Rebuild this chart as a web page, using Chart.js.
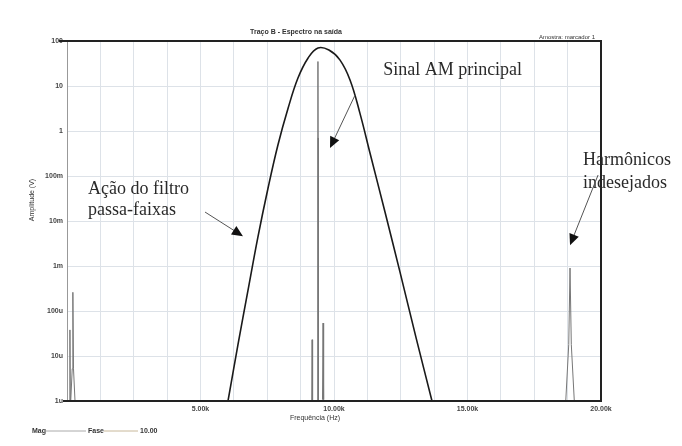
<!DOCTYPE html>
<html>
<head>
<meta charset="utf-8">
<script src="https://cdn.jsdelivr.net/npm/chart.js@4.4.1/dist/chart.umd.min.js"></script>
<style>
html,body{margin:0;padding:0;background:#fff;}
#wrap{width:682px;height:446px;position:relative;}
</style>
</head>
<body>
<div id="wrap"><canvas id="c" width="682" height="446"></canvas></div>
<script>
// ---- data (frequency in kHz, amplitude in V) ----
const filterFreq = [6.03, 6.40, 6.78, 7.15, 7.53, 7.90, 8.28, 8.65, 9.03, 9.40, 9.81, 10.22, 10.60, 10.97, 11.35, 11.91, 12.47, 13.07, 13.67];
const filterAmp  = [1e-6, 1.75e-5, 2.9e-4, 4.4e-3, 0.054, 0.49, 3.2, 15, 42, 70, 63, 38, 13.6, 2.5, 0.32, 0.0158, 7.4e-4, 2.6e-5, 1e-6];

const spikeFreq  = [0.11, 0.22, 9.18, 9.40, 9.59, 18.84];
const spikeAmp   = [3.8e-5, 2.6e-4, 2.3e-5, 35, 5.4e-5, 9.0e-4];
const spikeHalfWidth = [0.05, 0.08, 0.06, 0.01, 0.07, 0.16];

const xTickValues = [0, 1.25, 2.5, 3.75, 5, 6.25, 7.5, 8.75, 10, 11.25, 12.5, 13.75, 15, 16.25, 17.5, 18.75, 20];
const xTickLabels = {5: "5.00k", 10: "10.00k", 15: "15.00k", 20: "20.00k"};
const yTickValues = [1e-6, 1e-5, 1e-4, 1e-3, 1e-2, 1e-1, 1, 10, 100];
const yTickLabels = ["1u", "10u", "100u", "1m", "10m", "100m", "1", "10", "100"];

const titleText = "Traço B - Espectro na saída";
const cornerText = "Amostra: marcador 1";
const xTitle = "Frequência (Hz)";
const yTitle = "Amplitude (V)";
const legendItems = ["Mag", "Fase", "10.00"];

// annotations: text lines and arrows in data coordinates
const notes = [
  {lines: ["Sinal AM principal"], x: 11.84, y: [22.7]},
  {lines: ["Ação do filtro", "passa-faixas"], x: 0.79, y: [0.0514, 0.0175]},
  {lines: ["Harmônicos", "indesejados"], x: 19.33, y: [0.227, 0.0698]}
];
const arrows = [
  {from: [10.79, 6.3], to: [9.85, 0.42]},
  {from: [5.17, 0.0158], to: [6.59, 0.0046]},
  {from: [19.89, 0.105], to: [18.84, 0.0029]}
];

// ---- build datasets ----
const filterData = filterFreq.map((f, i) => ({x: f, y: filterAmp[i]}));
const spikeData = [];
spikeFreq.forEach((f, i) => {
  const w = spikeHalfWidth[i];
  spikeData.push({x: f - w, y: 1e-6});
  spikeData.push({x: f - w * 0.3, y: spikeAmp[i] * 0.02});
  spikeData.push({x: f, y: spikeAmp[i]});
  spikeData.push({x: f + w * 0.3, y: spikeAmp[i] * 0.02});
  spikeData.push({x: f + w, y: 1e-6});
  spikeData.push({x: f + w, y: null});
});

const deco = {
  id: 'deco',
  beforeDraw(chart) {
    const ctx = chart.ctx;
    ctx.save();
    ctx.fillStyle = '#fff';
    ctx.fillRect(0, 0, chart.width, chart.height);
    ctx.restore();
  },
  afterDraw(chart) {
    const ctx = chart.ctx, a = chart.chartArea;
    const xs = chart.scales.x, ys = chart.scales.y;
    ctx.save();
    // frame
    ctx.strokeStyle = '#999';
    ctx.lineWidth = 1;
    ctx.beginPath(); ctx.moveTo(a.left + 0.5, a.top); ctx.lineTo(a.left + 0.5, a.bottom); ctx.stroke();
    ctx.strokeStyle = '#222';
    ctx.lineWidth = 2;
    ctx.beginPath();
    ctx.moveTo(a.left - 8, a.top); ctx.lineTo(a.right, a.top); ctx.lineTo(a.right, a.bottom); ctx.lineTo(a.left - 4, a.bottom);
    ctx.stroke();
    // title
    ctx.fillStyle = '#333';
    ctx.font = 'bold 7px "Liberation Sans"';
    ctx.textAlign = 'center'; ctx.textBaseline = 'middle';
    ctx.fillText(titleText, (a.left + a.right) / 2 - 38, a.top - 9);
    ctx.font = '6px "Liberation Sans"';
    ctx.textAlign = 'right';
    ctx.fillText(cornerText, a.right - 6, a.top - 4);
    // axis titles
    ctx.font = '7px "Liberation Sans"';
    ctx.textAlign = 'center';
    ctx.fillText(xTitle, (a.left + a.right) / 2 - 19, a.bottom + 17);
    ctx.save();
    ctx.translate(32, 200);
    ctx.rotate(-Math.PI / 2);
    ctx.fillText(yTitle, 0, 0);
    ctx.restore();
    // legend
    ctx.font = 'bold 7px "Liberation Sans"';
    ctx.textAlign = 'left';
    const ly = a.bottom + 30;
    ctx.fillText(legendItems[0], 32, ly);
    ctx.strokeStyle = '#aaa'; ctx.lineWidth = 1;
    ctx.beginPath(); ctx.moveTo(46, ly); ctx.lineTo(86, ly); ctx.stroke();
    ctx.fillText(legendItems[1], 88, ly);
    ctx.strokeStyle = '#c8b89a';
    ctx.beginPath(); ctx.moveTo(104, ly); ctx.lineTo(138, ly); ctx.stroke();
    ctx.fillText(legendItems[2], 140, ly);
    // annotation texts
    ctx.fillStyle = '#2a2a2a';
    ctx.font = '18px "Liberation Serif"';
    ctx.textAlign = 'left'; ctx.textBaseline = 'middle';
    notes.forEach(n => {
      n.lines.forEach((t, i) => ctx.fillText(t, xs.getPixelForValue(n.x), ys.getPixelForValue(n.y[i])));
    });
    // arrows
    arrows.forEach(ar => {
      const x1 = xs.getPixelForValue(ar.from[0]), y1 = ys.getPixelForValue(ar.from[1]);
      const x2 = xs.getPixelForValue(ar.to[0]), y2 = ys.getPixelForValue(ar.to[1]);
      const ang = Math.atan2(y2 - y1, x2 - x1);
      ctx.strokeStyle = '#555'; ctx.lineWidth = 1;
      ctx.beginPath(); ctx.moveTo(x1, y1); ctx.lineTo(x2 - 6 * Math.cos(ang), y2 - 6 * Math.sin(ang)); ctx.stroke();
      ctx.fillStyle = '#111';
      ctx.beginPath();
      ctx.moveTo(x2, y2);
      ctx.lineTo(x2 - 11 * Math.cos(ang) + 5 * Math.sin(ang), y2 - 11 * Math.sin(ang) - 5 * Math.cos(ang));
      ctx.lineTo(x2 - 11 * Math.cos(ang) - 5 * Math.sin(ang), y2 - 11 * Math.sin(ang) + 5 * Math.cos(ang));
      ctx.closePath(); ctx.fill();
    });
    ctx.restore();
  }
};

new Chart(document.getElementById('c'), {
  type: 'line',
  data: {
    datasets: [
      {data: spikeData, borderColor: '#777', borderWidth: 1, pointRadius: 0, tension: 0, spanGaps: false},
      {data: filterData, borderColor: '#1a1a1a', borderWidth: 1.6, pointRadius: 0, tension: 0.4}
    ]
  },
  plugins: [deco],
  options: {
    responsive: false,
    animation: false,
    layout: {padding: {top: 41, right: 81, bottom: 0, left: 0}},
    plugins: {legend: {display: false}, tooltip: {enabled: false}},
    scales: {
      x: {
        type: 'linear', min: 0, max: 20,
        afterBuildTicks: s => { s.ticks = xTickValues.map(v => ({value: v})); },
        afterFit: s => { s.height = 45; },
        grid: {color: '#dde2e8', lineWidth: 1, drawTicks: false},
        border: {display: false},
        ticks: {
          padding: 4, autoSkip: false, maxRotation: 0, color: '#444',
          font: {size: 7, family: 'Liberation Sans', weight: 'bold'},
          callback: v => xTickLabels[v] || ''
        }
      },
      y: {
        type: 'logarithmic', min: 1e-6, max: 100,
        afterBuildTicks: s => { s.ticks = yTickValues.map(v => ({value: v})); },
        afterFit: s => { s.width = 67; },
        grid: {color: '#dde2e8', lineWidth: 1, drawTicks: false},
        border: {display: false},
        ticks: {
          padding: 4, autoSkip: false, color: '#444',
          font: {size: 7, family: 'Liberation Sans', weight: 'bold'},
          callback: (v, i) => yTickLabels[i]
        }
      }
    }
  }
});
</script>
</body>
</html>
